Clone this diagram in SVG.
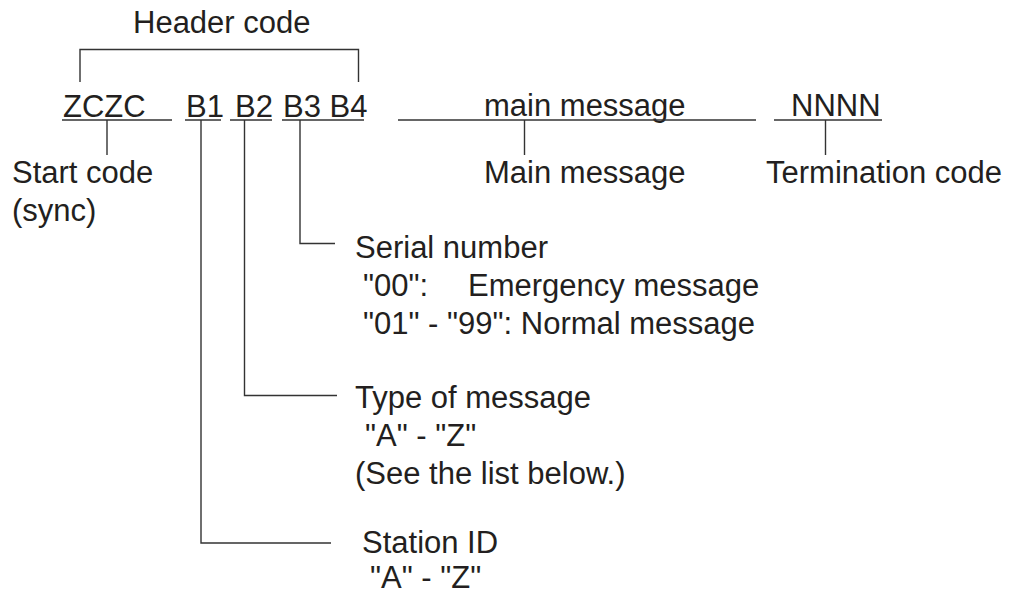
<svg xmlns="http://www.w3.org/2000/svg" width="1013" height="593" viewBox="0 0 1013 593">
<style>
text{font-family:"Liberation Sans",Arial,sans-serif;font-size:31px;fill:#231f20}
.ln{stroke:#333;stroke-width:1.4;fill:none}
</style>
<rect width="1013" height="593" fill="#fff"/>
<g id="header">
<text x="133" y="33">Header code</text>
</g>
<g id="fields">
<text x="63" y="117">ZCZC</text>
<text x="186" y="117">B1</text>
<text x="235" y="117">B2</text>
<text x="283" y="117">B3 B4</text>
<text x="484" y="116">main message</text>
<text x="791" y="116">NNNN</text>
</g>
<g id="start-code"><text x="12" y="183">Start code</text><text x="12" y="221">(sync)</text></g>
<g id="main-message"><text x="484" y="183">Main message</text></g>
<g id="termination-code"><text x="766" y="183">Termination code</text></g>
<g id="serial-number">
<text x="355" y="258">Serial number</text>
<text x="363" y="296">"00":<tspan x="468">Emergency message</tspan></text>
<text x="363" y="334">"01" - "99": Normal message</text>
</g>
<g id="type-of-message">
<text x="355" y="408">Type of message</text>
<text x="365" y="446">"A" - "Z"</text>
<text x="355" y="484">(See the list below.)</text>
</g>
<g id="station-id">
<text x="362" y="553">Station ID</text>
<text x="370" y="588">"A" - "Z"</text>
</g>
<g id="connectors" class="ln">
<polyline points="80,82 80,49.5 358.5,49.5 358.5,82"/>
<line x1="62" y1="120" x2="172" y2="120"/>
<line x1="185" y1="120" x2="221" y2="120"/>
<line x1="230" y1="120" x2="272" y2="120"/>
<line x1="282" y1="120" x2="364" y2="120"/>
<line x1="398" y1="120" x2="756" y2="120"/>
<line x1="774" y1="120" x2="882" y2="120"/>
<line x1="107" y1="120" x2="107" y2="155"/>
<line x1="524.5" y1="120" x2="524.5" y2="155"/>
<line x1="825.5" y1="120" x2="825.5" y2="155"/>
<polyline points="300,120 300,243.5 335,243.5"/>
<polyline points="244.5,120 244.5,395.5 337,395.5"/>
<polyline points="201,120 201,543 331,543"/>
</g>
</svg>
